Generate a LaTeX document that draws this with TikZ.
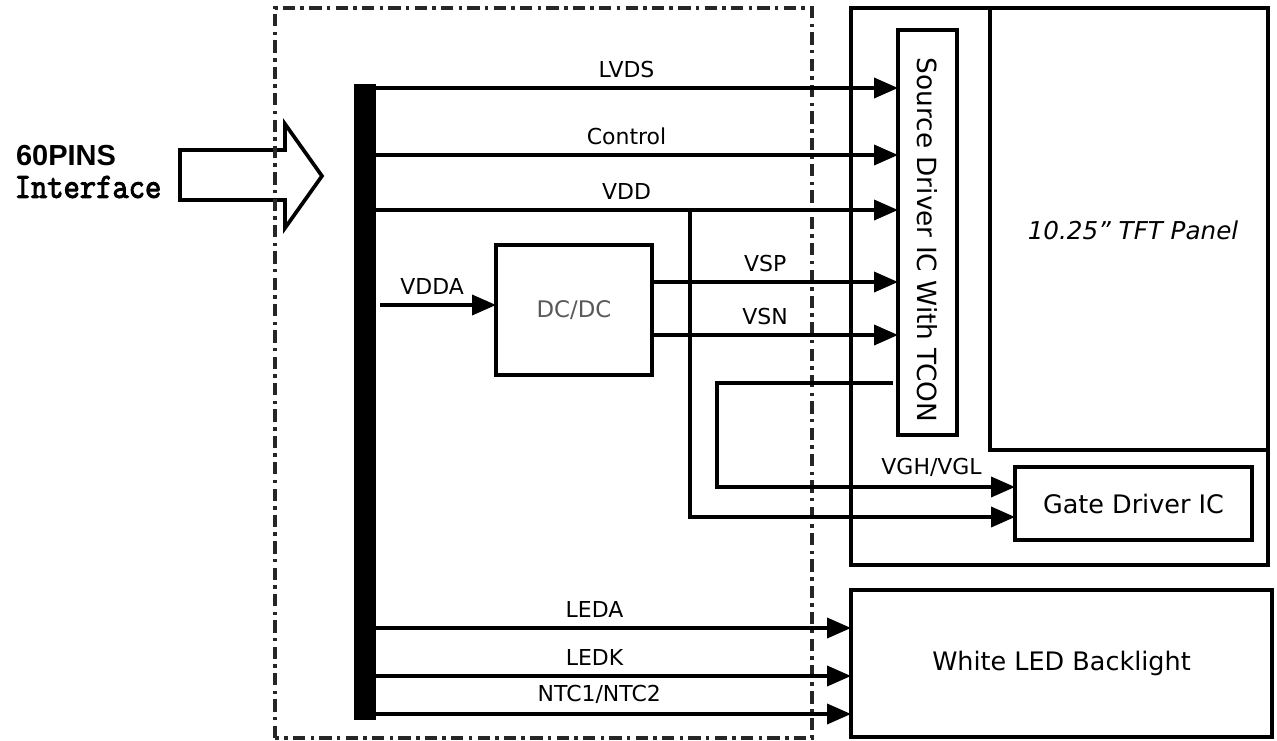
\documentclass[tikz,border=0pt]{standalone}
\usepackage{fontspec}
\setmainfont{DejaVu Sans}
\newfontfamily\arialb{Liberation Sans}
\newfontfamily\tmono{Latin Modern Mono}[RawFeature={embolden=3}]
\usetikzlibrary{arrows.meta}
\begin{document}
\begin{tikzpicture}[x=0.02cm,y=-0.02cm,
  box/.style={draw, line width=2.1pt, inner sep=0pt, outer sep=0pt},
  bigbox/.style={draw, line width=2.6pt, inner sep=0pt, outer sep=0pt},
  arr/.style={line width=2.1pt, -{Triangle[length=0.48cm,width=0.4cm]}},
  lab/.style={font=\fontsize{12.5}{14}\selectfont, inner sep=1pt},
  big/.style={font=\fontsize{14.5}{16}\selectfont},
  dashdot/.style={line width=1.9pt, black!85, dash pattern=on 7pt off 3pt on 2pt off 3pt}
]
\useasboundingbox (0,0) rectangle (1277,740);

% interface arrow
\draw[line width=2.1pt, fill=white] (180,150) -- (285,150) -- (285,124) -- (322,176) -- (285,228) -- (285,200) -- (180,200) -- cycle;
\node (pins) [inner sep=0pt] at (66,156) {\arialb\bfseries\fontsize{16.5}{17}\selectfont 60PINS};
\node (iface) [inner sep=0pt] at (88,187) {\tmono\fontsize{18}{18}\selectfont\scalebox{1}[1.12]{Interface}};

% dash-dot frame
\draw[dashdot] (275,738) -- (275,8) -- (812,8) -- (812,738) -- cycle;

% bar
\node (bar) [fill=black, inner sep=0pt, outer sep=0pt, minimum width=0.44cm, minimum height=12.72cm] at (365,402) {};

% boxes
\node (panel) [bigbox, minimum width=8.34cm, minimum height=11.14cm] at (1059.5,286.5) {};
\node (tft) [bigbox, minimum width=5.56cm, minimum height=8.84cm] at (1129,229) {};
\node (tftl) [font=\itshape\fontsize{14}{16}\selectfont] at (1133,230) {10.25" TFT Panel};
\node (src) [box, minimum width=1.18cm, minimum height=8.1cm] at (927.5,232.5) {};
\node (srcl) [font=\fontsize{15}{16}\selectfont, rotate=-90] at (927.5,240) {Source Driver IC With TCON};
\node (gate) [box, minimum width=4.74cm, minimum height=1.46cm, big] at (1133.5,503.5) {Gate Driver IC};
\node (led) [bigbox, minimum width=8.42cm, minimum height=2.94cm, big] at (1061.5,663.5) {White LED Backlight};
\node (dcdc) [box, minimum width=3.12cm, minimum height=2.6cm, text=black!65, font=\fontsize{13}{15}\selectfont] at (574,310) {DC/DC};

% signals to source driver
\draw[arr] (bar.east |- 0,88) -- node[lab, above=4pt, pos=0.48] {LVDS} (src.west |- 0,88);
\draw[arr] (bar.east |- 0,155) -- node[lab, above=4pt, pos=0.48] {Control} (src.west |- 0,155);
\draw[arr] (bar.east |- 0,210) -- node[lab, above=4pt, pos=0.48] {VDD} (src.west |- 0,210);
\draw[arr] (bar.east |- 0,305) ++(4,0) -- node[lab, above=4pt, pos=0.45] {VDDA} (dcdc.west |- 0,305);
\draw[arr] (dcdc.east |- 0,282) -- node[lab, above=4pt, pos=0.46] {VSP} (src.west |- 0,282);
\draw[arr] (dcdc.east |- 0,335) -- node[lab, above=4pt, pos=0.46] {VSN} (src.west |- 0,335);

% gate driver feeds
\coordinate (vddtap) at (690,210);
\draw[arr] (vddtap) |- (gate.west |- 0,517);
\coordinate (vgout) at (893,383);
\draw[arr] (vgout) -- ++(-176,0) |- node[lab, above=4pt, pos=0.86] {VGH/VGL} (gate.west |- 0,487);

% backlight
\draw[arr] (bar.east |- 0,628) -- node[lab, above=4pt, pos=0.46] {LEDA} (led.west |- 0,628);
\draw[arr] (bar.east |- 0,676) -- node[lab, above=4pt, pos=0.46] {LEDK} (led.west |- 0,676);
\draw[arr] (bar.east |- 0,714) -- node[lab, above=4pt, pos=0.47] {NTC1/NTC2} (led.west |- 0,714);
\end{tikzpicture}
\end{document}
